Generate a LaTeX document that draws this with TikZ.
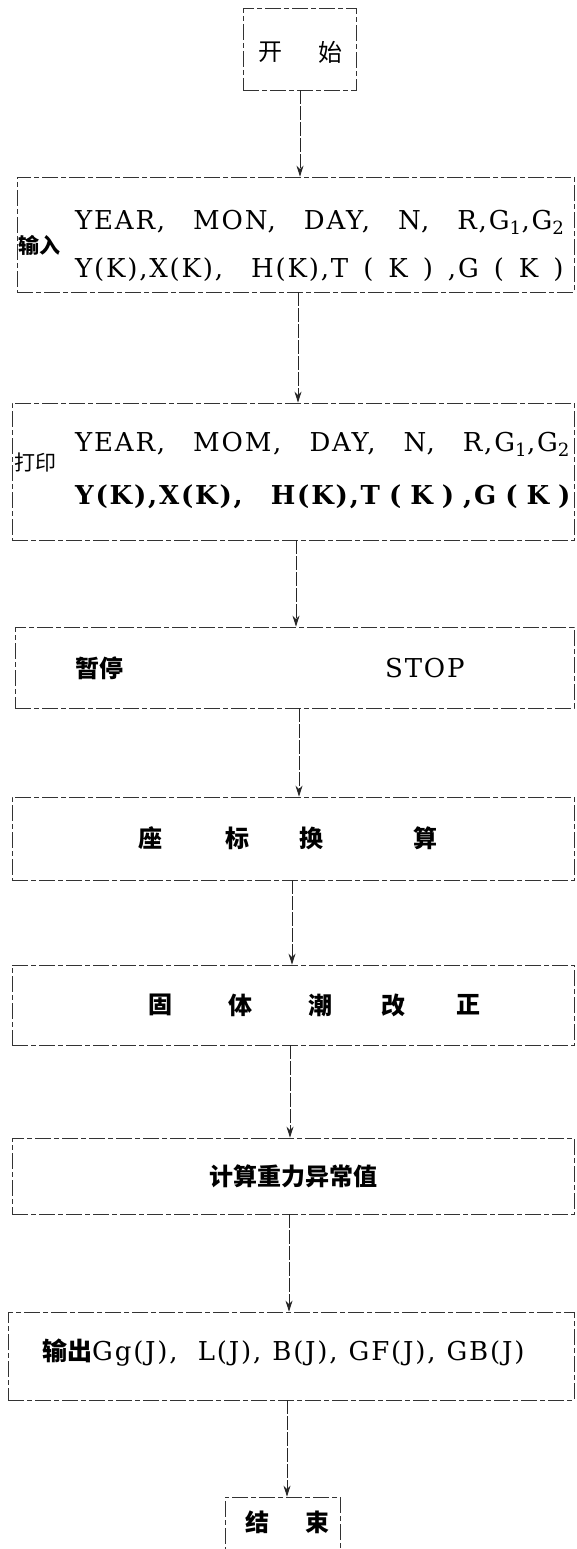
\documentclass[tikz,border=0pt]{standalone}
\usepackage{fontspec}
\setmainfont{DejaVu Serif}
\newfontfamily\wideserif{DejaVu Serif}[LetterSpace=7]
\newfontfamily\cjk{Noto Sans CJK SC}
\usetikzlibrary{arrows.meta}
\newcommand{\gp}{\hspace{28pt}}
\newcommand{\ip}{\hspace{15pt}}
\newcommand{\ipb}{\hspace{9pt}}
\newcommand{\cp}{\hspace{11pt}}
\tikzset{
 box/.style={draw=black!80, line width=0.7pt, dash pattern=on 16pt off 3pt on 5pt off 3pt, inner sep=0pt, rectangle},
 arr/.style={draw=black!85, line width=1pt, dash pattern=on 14pt off 2pt, -{Stealth[length=11pt,width=7pt]}},
 lat/.style={font=\wideserif\fontsize{26}{30}\selectfont, inner sep=0pt},
 latb/.style={font=\wideserif\bfseries\fontsize{26}{30}\selectfont, inner sep=0pt},
 zh/.style={font=\cjk\fontsize{24}{28}\selectfont, inner sep=0pt},
 zhs/.style={font=\cjk\fontsize{21}{24}\selectfont, inner sep=0pt},
 zhb/.style={font=\cjk\bfseries\fontsize{24}{28}\selectfont, inner sep=0pt},
}
\begin{document}
\begin{tikzpicture}[x=1pt,y=-1pt]
\useasboundingbox (0,0) rectangle (576,1549);
% boxes
\node[box, minimum width=113, minimum height=82] (start) at (299.5,49) {};
\node[box, minimum width=557, minimum height=115] (input) at (295.5,234.5) {};
\node[box, minimum width=562, minimum height=137] (print) at (293,471.5) {};
\node[box, minimum width=559, minimum height=81] (pause) at (294.5,667.5) {};
\node[box, minimum width=562, minimum height=83] (coord) at (293,838.5) {};
\node[box, minimum width=562, minimum height=80] (tide) at (293,1005) {};
\node[box, minimum width=562, minimum height=76] (calc) at (293,1176) {};
\node[box, minimum width=566, minimum height=88] (output) at (291,1356) {};
\node[box, minimum width=115, minimum height=90] (stop) at (282.5,1542) {};
% texts
\node[zh] (t1a) at (270,52) {开};
\node[zh] (t1b) at (330,52) {始};

\node[lat, anchor=west] (in1) at (75,222) {YEAR,\gp MON,\gp DAY,\gp N,\gp R,G\textsubscript{1},G\textsubscript{2}};
\node[lat, anchor=west] (in2) at (75,270) {Y(K),X(K),\gp H(K),T\ip(\ip K\ip)\ip,G\ip(\ip K\ip)};
\node[zhs, anchor=west, font=\cjk\bfseries\fontsize{21}{24}\selectfont] (inl) at (18,245) {输入};

\node[lat, anchor=west] (pr1) at (75,444) {YEAR,\gp MOM,\gp DAY,\gp N,\gp R,G\textsubscript{1},G\textsubscript{2}};
\node[latb, anchor=west] (pr2) at (75,497) {Y(K),X(K),\gp H(K),T\ipb(\ipb K\ipb)\ipb,G\ipb(\ipb K\ipb)};
\node[zhs, anchor=west] (prl) at (14,462) {打印};

\node[zhb, anchor=west] (pa1) at (75,668) {暂停};
\node[lat, anchor=west] (pa2) at (385,668) {STOP};

\node[zhb] (c1) at (150,838) {座};
\node[zhb] (c2) at (237,838) {标};
\node[zhb] (c3) at (311,838) {换};
\node[zhb] (c4) at (425,838) {算};

\node[zhb] (d1) at (160,1005) {固};
\node[zhb] (d2) at (240,1005) {体};
\node[zhb] (d3) at (320,1005) {潮};
\node[zhb] (d4) at (393,1005) {改};
\node[zhb] (d5) at (468,1005) {正};

\node[zhb] (ca) at (293,1176) {计算重力异常值};

\node[lat, anchor=west] (ou) at (42,1353) {{\cjk\bfseries\fontsize{25}{29}\selectfont 输出}Gg(J),\ \ L(J),\cp B(J),\cp GF(J),\cp GB(J)};

\node[zhb] (e1) at (257,1522) {结};
\node[zhb] (e2) at (317,1522) {束};
% connectors
\draw[arr] ([xshift=0.5]start.south) -- ([xshift=0.5]start.south |- input.north);
\draw[arr] ([xshift=2.5]input.south) -- ([xshift=2.5]input.south |- print.north);
\draw[arr] ([xshift=3]print.south) -- ([xshift=3]print.south |- pause.north);
\draw[arr] ([xshift=4.5]pause.south) -- ([xshift=4.5]pause.south |- coord.north);
\draw[arr] ([xshift=-1]coord.south) -- ([xshift=-1]coord.south |- tide.north);
\draw[arr] ([xshift=-3]tide.south) -- ([xshift=-3]tide.south |- calc.north);
\draw[arr] ([xshift=-4]calc.south) -- ([xshift=-4]calc.south |- output.north);
\draw[arr] ([xshift=-4]output.south) -- ([xshift=-4]output.south |- stop.north);
\end{tikzpicture}
\end{document}
